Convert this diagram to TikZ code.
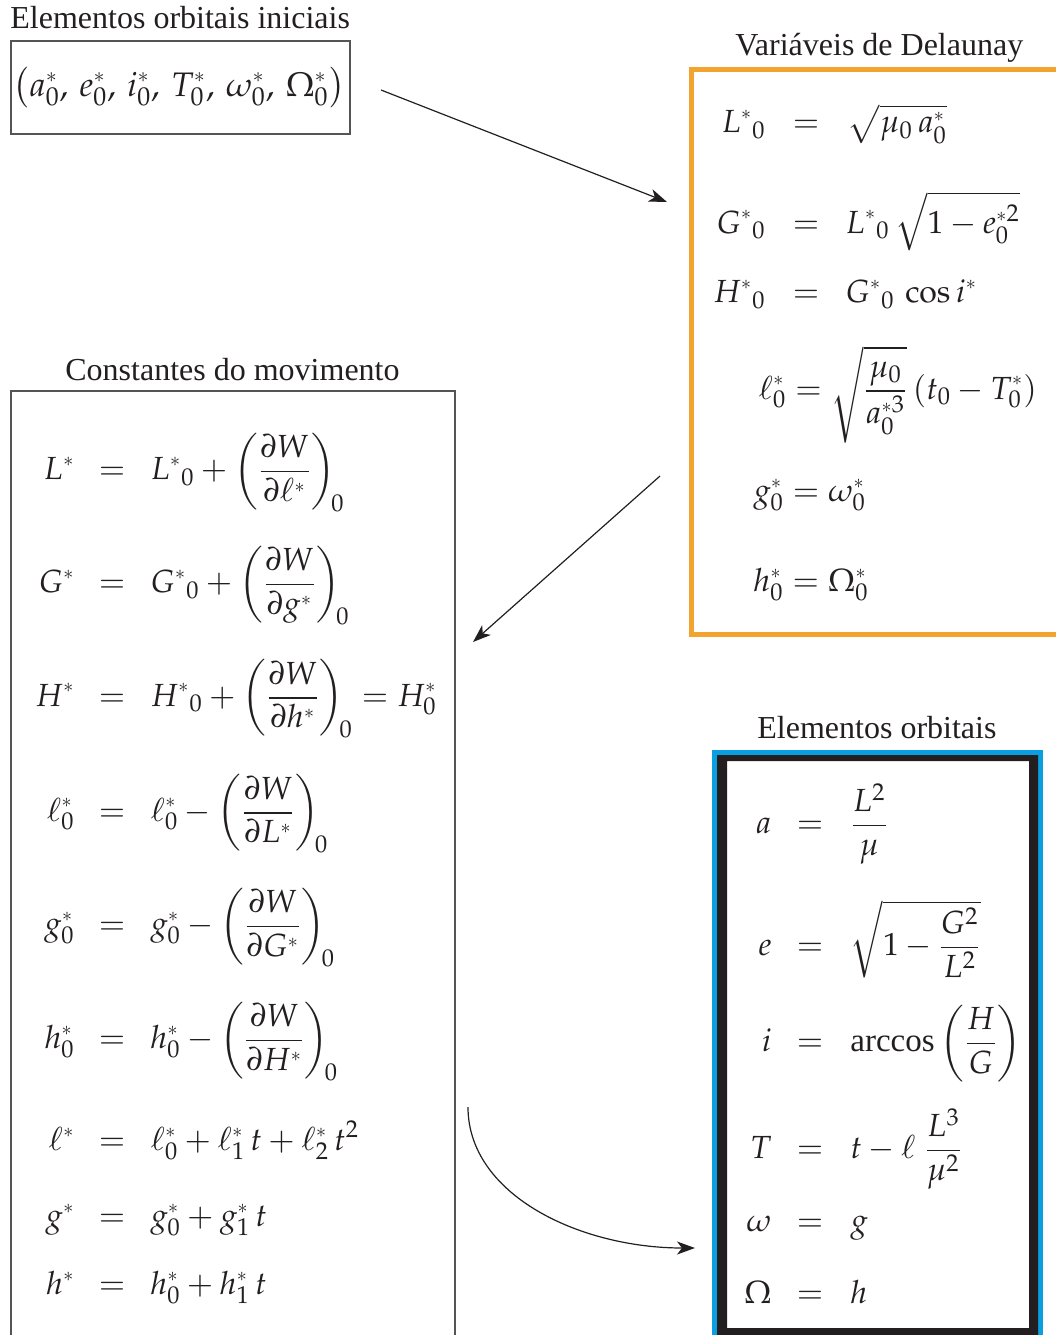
\documentclass[tikz,border=0pt]{standalone}
\usepackage{mathpazo}
\usepackage[no-math]{fontspec}
\newfontfamily\ttl{Liberation Serif}
\usetikzlibrary{arrows.meta}
\definecolor{orng}{HTML}{F2A42F}
\definecolor{blu}{HTML}{0A9FE0}
\definecolor{frm}{HTML}{231F20}
\definecolor{boxgray}{HTML}{555555}
\definecolor{ink}{HTML}{231F20}
\newcommand{\sst}{{\scriptscriptstyle *}}
\tikzset{
  ttlnode/.style={font=\ttl\fontsize{16}{19}\selectfont, anchor=base west, inner sep=0pt, text=ink},
  mth/.style={font=\fontsize{16}{19}\selectfont, inner sep=0pt, text=ink},
  lhs/.style={mth, anchor=base east},
  eqs/.style={mth, anchor=base},
  rhs/.style={mth, anchor=base west},
  arr/.style={line width=0.6pt, draw=ink, -{Stealth[length=9pt,width=6.5pt,inset=2.5pt]}},
  graybox/.style={draw=boxgray, line width=0.75pt, inner sep=0pt, outer sep=0pt},
}
\newcommand{\eqrow}[7]{%
  \node[lhs] (#1l) at (#2,#5) {$\displaystyle #6$};
  \node[eqs] (#1e) at (#3,#5) {$=$};
  \node[rhs] (#1r) at (#4,#5) {$\displaystyle #7$};}
\begin{document}
\begin{tikzpicture}[x=0.5pt,y=-0.5pt]
\useasboundingbox (0,0) rectangle (1056,1335);
% ---------- titles
\node[ttlnode] (t1) at (10,28) {Elementos orbitais iniciais};
\node[ttlnode] (t2) at (735,55) {Variáveis de Delaunay};
\node[ttlnode] (t3) at (65,380) {Constantes do movimento};
\node[ttlnode] (t4) at (757,738) {Elementos orbitais};
% ---------- box 1
\node[graybox, minimum width=169.5pt, minimum height=46.5pt] (b1) at (180.5,87.5) {};
\node[mth, font=\fontsize{17}{20}\selectfont] (b1t) at (179,88)
  {$\displaystyle \bigl(a^\sst_0,\, e^\sst_0,\, i^\sst_0,\, T^\sst_0,\, \omega^\sst_0,\, \Omega^\sst_0\bigr)$};
% ---------- orange box
\node[draw=orng, line width=2.5pt, minimum width=189.25pt, minimum height=282.75pt, inner sep=0pt, outer sep=0pt] (b2) at (880.75,351.75) {};
\eqrow{o1}{766}{806}{847}{132.5}{L^\sst{}_0}{\sqrt{\mu_0\, a^\sst_0}}
\eqrow{o2}{766}{806}{845}{233}{G^\sst{}_0}{L^\sst{}_0\,\sqrt{1-e^{\sst 2}_0}}
\eqrow{o3}{766}{806}{845}{302.5}{H^\sst{}_0}{G^\sst{}_0\,\cos i^\sst}
\node[rhs] (o4) at (758,399) {$\displaystyle \ell^\sst_0 = \sqrt{\frac{\mu_0}{a^{\sst 3}_0}}\,(t_0-T^\sst_0)$};
\node[rhs] (o5) at (753,501.5) {$\displaystyle g^\sst_0 = \omega^\sst_0$};
\node[rhs] (o6) at (753,591.5) {$\displaystyle h^\sst_0 = \Omega^\sst_0$};
% ---------- box 3
\node[graybox, minimum width=222pt, minimum height=479.5pt] (b3) at (233,870.5) {};
\eqrow{c1}{75}{112}{150}{479.5}{L^\sst}{L^\sst{}_0+\left(\frac{\partial W}{\partial \ell^\sst}\right)_{\!0}}
\eqrow{c2}{75}{112}{150}{592.5}{G^\sst}{G^\sst{}_0+\left(\frac{\partial W}{\partial g^\sst}\right)_{\!0}}
\eqrow{c3}{75}{112}{150}{706}{H^\sst}{H^\sst{}_0+\left(\frac{\partial W}{\partial h^\sst}\right)_{\!0}=H^\sst_0}
\eqrow{c4}{75}{112}{150}{821}{\ell^\sst_0}{\ell^\sst_0-\left(\frac{\partial W}{\partial L^\sst}\right)_{\!0}}
\eqrow{c5}{75}{112}{150}{934.5}{g^\sst_0}{g^\sst_0-\left(\frac{\partial W}{\partial G^\sst}\right)_{\!0}}
\eqrow{c6}{75}{112}{150}{1048.5}{h^\sst_0}{h^\sst_0-\left(\frac{\partial W}{\partial H^\sst}\right)_{\!0}}
\eqrow{c7}{75}{112}{150}{1150.5}{\ell^\sst}{\ell^\sst_0+\ell^\sst_1\,t+\ell^\sst_2\,t^2}
\eqrow{c8}{75}{112}{150}{1226.5}{g^\sst}{g^\sst_0+g^\sst_1\,t}
\eqrow{c9}{75}{112}{150}{1294.5}{h^\sst}{h^\sst_0+h^\sst_1\,t}
% ---------- blue box
\node[draw=blu, line width=2.5pt, minimum width=163pt, minimum height=299pt, inner sep=0pt, outer sep=0pt] (b4) at (877.5,1051) {};
\fill[frm, even odd rule] (717,755) rectangle (1038,1340) (727,761) rectangle (1029,1328);
\eqrow{e1}{772}{810}{850}{833.5}{a}{\frac{L^2}{\mu}}
\eqrow{e2}{772}{810}{850}{955.5}{e}{\sqrt{1-\frac{G^2}{L^2}}}
\eqrow{e3}{772}{810}{850}{1051.5}{i}{\mbox{\ttl\fontsize{16.5}{19}\selectfont arccos}\left(\frac{H}{G}\right)}
\eqrow{e4}{772}{810}{850}{1158.5}{T}{t-\ell\;\frac{L^3}{\mu^2}}
\eqrow{e5}{772}{810}{850}{1231.5}{\omega}{g}
\eqrow{e6}{772}{810}{850}{1303.5}{\Omega}{h}
% ---------- connectors
\coordinate (a1s) at (381,90);
\coordinate (a1e) at (667,202);
\coordinate (a2s) at (660,476);
\coordinate (a2e) at (473,642);
\coordinate (a3s) at (468,1107);
\coordinate (a3e) at (695,1248);
\draw[arr] (a1s) -- (a1e);
\draw[arr] (a2s) -- (a2e);
\draw[arr] (a3s) .. controls (468,1195) and (580,1248) .. (a3e);
\end{tikzpicture}
\end{document}
